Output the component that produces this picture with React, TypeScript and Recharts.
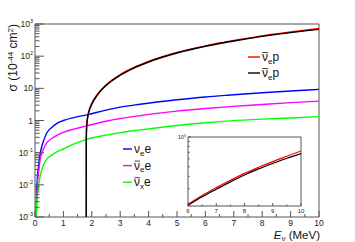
import { LineChart, Line, XAxis, YAxis, ReferenceArea } from 'recharts'

const FONT = '"Liberation Sans", Arial, sans-serif'
const FRAME = '#555'

// electron scattering, energies in MeV, sigma in 1e-44 cm^2
const energyES = [0.04, 0.06, 0.08, 0.12, 0.18, 0.25, 0.3, 0.41, 0.6, 0.8, 1.0, 1.4, 1.82, 2.5, 3, 3.7, 5, 6, 6.87, 8, 9, 10]
const sigmaNueE = [0.001, 0.0055, 0.015, 0.036, 0.09, 0.17, 0.23, 0.4, 0.62, 0.84, 1.0, 1.25, 1.5, 2.1, 2.6, 3.2, 4.4, 5.4, 6.2, 7.3, 8.3, 9.3]
const sigmaNuebarE = [0.001, 0.004, 0.009, 0.022, 0.06, 0.1, 0.13, 0.2, 0.28, 0.36, 0.43, 0.55, 0.68, 0.95, 1.15, 1.42, 1.95, 2.35, 2.7, 3.15, 3.6, 4.0]
const sigmaNuxE = [0.001, 0.0028, 0.005, 0.009, 0.018, 0.032, 0.042, 0.062, 0.085, 0.11, 0.13, 0.19, 0.26, 0.35, 0.42, 0.51, 0.7, 0.85, 0.97, 1.1, 1.2, 1.32]

// inverse beta decay, two calculations
const energyIBD = [1.806, 1.8065, 1.81, 1.82, 1.85, 1.9, 2.0, 2.2, 2.5, 3, 3.5, 4, 5, 6, 6.5, 7, 7.5, 8, 8.5, 9, 9.5, 10]
const sigmaIbdRed = [0.001, 0.26, 0.41, 0.68, 1.23, 2.0, 3.4, 6.6, 12.8, 26.8, 45.5, 69, 131, 208, 256, 307, 364, 428, 493, 563, 638, 722]
const sigmaIbdBlack = [0.001, 0.25, 0.39, 0.65, 1.18, 1.9, 3.2, 6.3, 12.2, 25.5, 43.5, 66, 125, 203, 248, 296, 351, 412, 475, 540, 610, 680]

const xMajorTicks = [0, 1, 2, 3, 4, 5, 6, 7, 8, 9, 10]
const yMajorTicks = [0.001, 0.01, 0.1, 1, 10, 100, 1000]
const yTickLabels = [['10', '-3'], ['10', '-2'], ['10', '-1'], ['1', ''], ['10', ''], ['10', '2'], ['10', '3']]
const insetXTicks = [6, 7, 8, 9, 10]
const insetYTicks = [200, 300, 400, 500, 600, 700, 800, 900, 1000]

const zip = (xs: number[], ys: number[]) => xs.map((e, i) => ({ e, s: ys[i] }))

const nueE = zip(energyES, sigmaNueE)
const nuebarE = zip(energyES, sigmaNuebarE)
const nuxE = zip(energyES, sigmaNuxE)
const ibdRed = zip(energyIBD, sigmaIbdRed)
const ibdBlack = zip(energyIBD, sigmaIbdBlack)

const xTicks = xMajorTicks.flatMap((t) => (t < 10 ? [t, t + 0.5] : [t]))
const yTicks = yMajorTicks.flatMap((d) => (d < 1000 ? [1, 2, 3, 4, 5, 6, 7, 8, 9].map((m) => m * d) : [d]))
const insetXAll = insetXTicks.flatMap((t) => (t < 10 ? [t, t + 0.5] : [t]))

const isDecade = (v: number) => Math.abs(Math.log10(v) - Math.round(Math.log10(v))) < 1e-6

const XTick = (props: any) => {
  const { x, y, payload } = props
  const major = Number.isInteger(payload.value)
  return (
    <g>
      <line x1={x} x2={x} y1={y} y2={y - (major ? 6 : 3)} stroke={FRAME} />
      {major && (
        <text x={x} y={y + 9} textAnchor="middle" fontSize={8.5} fontFamily={FONT} fill="#222">
          {payload.value}
        </text>
      )}
    </g>
  )
}

const YTick = (props: any) => {
  const { x, y, payload } = props
  const major = isDecade(payload.value)
  const idx = yMajorTicks.findIndex((t) => Math.abs(t - payload.value) / t < 1e-6)
  const lab = idx >= 0 ? yTickLabels[idx] : null
  return (
    <g>
      <line x1={x} x2={x + (major ? 9 : 4.5)} y1={y} y2={y} stroke={FRAME} />
      {lab && (
        <text x={x - 2} y={y + 3} textAnchor="end" fontSize={8.5} fontFamily={FONT} fill="#222">
          {lab[0]}
          {lab[1] && (
            <tspan fontSize={5.5} dy={-4}>
              {lab[1]}
            </tspan>
          )}
        </text>
      )}
    </g>
  )
}

const InsetXTick = (props: any) => {
  const { x, y, payload } = props
  const major = Number.isInteger(payload.value)
  return (
    <g>
      <line x1={x} x2={x} y1={y} y2={y - (major ? 3 : 1.5)} stroke={FRAME} />
      {major && (
        <text x={x} y={y + 7} textAnchor="middle" fontSize={6} fontFamily={FONT} fill="#222">
          {payload.value}
        </text>
      )}
    </g>
  )
}

const InsetYTick = (props: any) => {
  const { x, y, payload } = props
  const top = payload.value === 1000
  return (
    <g>
      <line x1={x} x2={x + (top ? 3 : 1.8)} y1={y} y2={y} stroke={FRAME} />
      {top && (
        <text x={x - 2} y={y + 2} textAnchor="end" fontSize={5.5} fontFamily={FONT} fill="#222">
          10<tspan fontSize={4} dy={-2.5}>3</tspan>
        </text>
      )}
    </g>
  )
}

const NuLabel = ({ x, y, bar, sub, tail }: { x: number; y: number; bar: boolean; sub: string; tail: string }) => (
  <g>
    <text x={x} y={y} fontSize={12} fontFamily={FONT} fill="#111">
      ν
      <tspan fontSize={8} dy={2.5}>
        {sub}
      </tspan>
      <tspan dy={-2.5}>{tail}</tspan>
    </text>
    {bar && <line x1={x + 0.5} x2={x + 6} y1={y - 8.5} y2={y - 8.5} stroke="#111" strokeWidth={0.8} />}
  </g>
)

const upperLegend = [
  { color: '#ff0000', bar: true, sub: 'e', tail: 'p' },
  { color: '#000000', bar: true, sub: 'e', tail: 'p' },
]
const lowerLegend = [
  { color: '#0000ff', bar: false, sub: 'e', tail: 'e' },
  { color: '#ff00ff', bar: true, sub: 'e', tail: 'e' },
  { color: '#00ff00', bar: true, sub: 'x', tail: 'e' },
]

export default function App() {
  const lineProps = {
    dataKey: 's',
    type: 'monotone' as const,
    dot: false,
    strokeWidth: 1.4,
    isAnimationActive: false,
  }
  return (
    <div style={{ position: 'absolute', left: 0, top: 0, width: 355, height: 242, background: '#fff' }}>
      <LineChart width={355} height={242} margin={{ top: 24, right: 36, bottom: 24, left: 34 }}>
        <XAxis
          type="number"
          dataKey="e"
          domain={[0, 10]}
          ticks={xTicks}
          interval={0}
          allowDataOverflow
          axisLine={false}
          tickLine={false}
          tickSize={0}
          tickMargin={0}
          height={1}
          tick={<XTick />}
        />
        <YAxis
          type="number"
          scale="log"
          domain={[0.001, 1000]}
          ticks={yTicks}
          interval={0}
          allowDataOverflow
          axisLine={false}
          tickLine={false}
          tickSize={0}
          tickMargin={0}
          width={1}
          tick={<YTick />}
        />
        <Line data={nueE} stroke="#0000ff" {...lineProps} />
        <Line data={nuebarE} stroke="#ff00ff" {...lineProps} />
        <Line data={nuxE} stroke="#00ff00" {...lineProps} />
        <Line data={ibdRed} stroke="#ff0000" {...lineProps} />
        <Line data={ibdBlack} stroke="#000000" {...lineProps} />
        <ReferenceArea x1={0} x2={10} y1={0.001} y2={1000} fill="none" stroke={FRAME} ifOverflow="visible" />
      </LineChart>

      <div style={{ position: 'absolute', left: 170, top: 125 }}>
        <LineChart width={140} height={95} margin={{ top: 12, right: 9, bottom: 13, left: 17 }}>
          <XAxis
            type="number"
            dataKey="e"
            domain={[6, 10]}
            ticks={insetXAll}
            interval={0}
            allowDataOverflow
            axisLine={false}
            tickLine={false}
            tickSize={0}
            tickMargin={0}
            height={1}
            tick={<InsetXTick />}
          />
          <YAxis
            type="number"
            scale="log"
            domain={[200, 1000]}
            ticks={insetYTicks}
            interval={0}
            allowDataOverflow
            axisLine={false}
            tickLine={false}
            tickSize={0}
            tickMargin={0}
            width={1}
            tick={<InsetYTick />}
          />
          <Line data={ibdRed.filter((d) => d.e >= 6)} stroke="#ff0000" {...lineProps} strokeWidth={1.2} />
          <Line data={ibdBlack.filter((d) => d.e >= 6)} stroke="#000000" {...lineProps} strokeWidth={1.2} />
          <ReferenceArea x1={6} x2={10} y1={200} y2={1000} fill="none" stroke={FRAME} ifOverflow="visible" />
        </LineChart>
      </div>

      <svg width={355} height={242} style={{ position: 'absolute', left: 0, top: 0, pointerEvents: 'none' }}>
        <text transform="translate(17, 24) rotate(-90)" textAnchor="end" fontSize={12} fontFamily={FONT} fill="#111">
          σ (10<tspan fontSize={8} dy={-4}>-44</tspan>
          <tspan dy={4}> cm</tspan>
          <tspan fontSize={8} dy={-4}>2</tspan>
          <tspan dy={4}>)</tspan>
        </text>
        <text x={320} y={238.5} textAnchor="end" fontSize={11.5} fontFamily={FONT} fill="#111">
          <tspan fontStyle="italic">E</tspan>
          <tspan fontSize={8} dy={2.5}>ν</tspan>
          <tspan dy={-2.5}> (MeV)</tspan>
        </text>
        {upperLegend.map((it, i) => (
          <g key={i}>
            <line x1={248} x2={260} y1={57 + i * 16} y2={57 + i * 16} stroke={it.color} strokeWidth={1.4} />
            <NuLabel x={262} y={61 + i * 16} bar={it.bar} sub={it.sub} tail={it.tail} />
          </g>
        ))}
        {lowerLegend.map((it, i) => (
          <g key={i}>
            <line x1={123} x2={132} y1={149 + i * 16.6} y2={149 + i * 16.6} stroke={it.color} strokeWidth={1.4} />
            <NuLabel x={134} y={153 + i * 16.6} bar={it.bar} sub={it.sub} tail={it.tail} />
          </g>
        ))}
      </svg>
    </div>
  )
}
